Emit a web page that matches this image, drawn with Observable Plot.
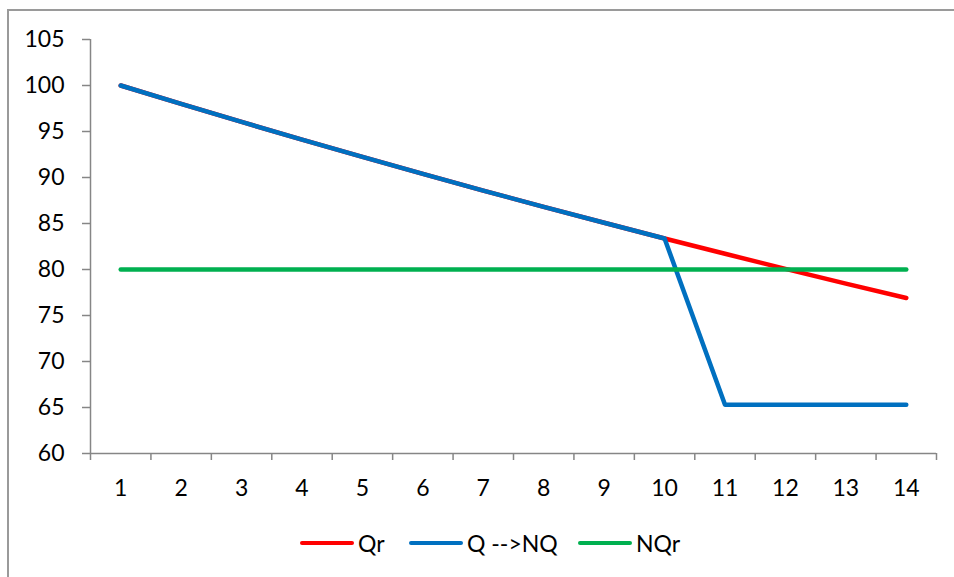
<!DOCTYPE html>
<html>
<head>
<meta charset="utf-8">
<script src="https://cdn.jsdelivr.net/npm/d3@7"></script>
<script src="https://cdn.jsdelivr.net/npm/@observablehq/plot@0.6"></script>
<style>
  html, body { margin: 0; padding: 0; background: #fff; }
  body { width: 954px; height: 577px; position: relative; overflow: hidden; font-family: Lato, "Open Sans", sans-serif; }
  #frame { position: absolute; left: 7px; top: 9px; width: 1000px; height: 700px;
           border-top: 2px solid #9a9a9a; border-left: 2px solid #9a9a9a; box-sizing: border-box; }
  #chart { position: absolute; left: 0; top: 0; }
  #legend { position: absolute; top: 528px; left: 0; width: 954px; height: 30px; font-size: 23px; color: #000; }
  .item { position: absolute; top: 0; display: flex; align-items: center; height: 30px; }
  .swatch { width: 54px; height: 4px; border-radius: 2px; margin-right: 4px; }
</style>
</head>
<body>
<div id="frame"></div>
<div id="chart"></div>
<div id="legend"></div>
<script>
// ---- data ----
const categories = [1, 2, 3, 4, 5, 6, 7, 8, 9, 10, 11, 12, 13, 14];
const qr    = [100, 98, 96.04, 94.12, 92.24, 90.39, 88.58, 86.81, 85.08, 83.37, 81.71, 80.07, 78.47, 76.9];
const qToNq = [100, 98, 96.04, 94.12, 92.24, 90.39, 88.58, 86.81, 85.08, 83.37, 65.3, 65.3, 65.3, 65.3];
const nqr   = [80, 80, 80, 80, 80, 80, 80, 80, 80, 80, 80, 80, 80, 80];
const seriesNames = ["Qr", "Q -->NQ", "NQr"];
const seriesColors = ["#ff0000", "#0070c0", "#00b050"];
const yTicks = [60, 65, 70, 75, 80, 85, 90, 95, 100, 105];
const xLabels = categories;

// ---- build ----
const allSeries = [qr, qToNq, nqr];
const rows = allSeries.flatMap((vals, si) => categories.map((c, i) => ({x: c, y: vals[i], s: seriesNames[si]})));
const xMin = categories[0] - 0.5, xMax = categories[categories.length - 1] + 0.5;
const boundaries = d3.range(xMin, xMax + 0.01, 1);
const yMin = d3.min(yTicks), yMax = d3.max(yTicks);
const axisColor = "#868686";

const chart = Plot.plot({
  width: 954,
  height: 500,
  marginLeft: 90,
  marginRight: 18,
  marginTop: 39,
  marginBottom: 47,
  style: {fontFamily: "Lato, 'Open Sans', sans-serif", fontSize: "23px", color: "#000", background: "transparent", overflow: "visible"},
  x: {domain: [xMin, xMax]},
  y: {domain: [yMin, yMax]},
  marks: [
    Plot.ruleX([xMin], {y1: yMin, y2: yMax, stroke: axisColor, strokeWidth: 1.5}),
    Plot.ruleY([yMin], {x1: xMin, x2: xMax, stroke: axisColor, strokeWidth: 1.5}),
    Plot.axisY(yTicks, {tickSize: 8, tickPadding: 18, stroke: axisColor, fill: "#000", strokeWidth: 1.5, label: null}),
    Plot.axisX(boundaries, {tickSize: 7, tickFormat: () => "", stroke: axisColor, strokeWidth: 1.5, label: null}),
    Plot.axisX(xLabels, {tickSize: 0, tickPadding: 26, fill: "#000", label: null}),
    ...seriesNames.map((name, i) => Plot.line(rows.filter(d => d.s === name), {
      x: "x", y: "y", stroke: seriesColors[i], strokeWidth: 4.5, strokeLinecap: "round", strokeLinejoin: "round"
    }))
  ]
});
document.getElementById("chart").appendChild(chart);

// legend
const legendX = [300, 409, 578];
const legend = document.getElementById("legend");
seriesNames.forEach((name, i) => {
  const item = document.createElement("div");
  item.className = "item";
  item.style.left = legendX[i] + "px";
  const sw = document.createElement("div");
  sw.className = "swatch";
  sw.style.background = seriesColors[i];
  const t = document.createElement("span");
  t.textContent = name;
  item.appendChild(sw);
  item.appendChild(t);
  legend.appendChild(item);
});
</script>
</body>
</html>
